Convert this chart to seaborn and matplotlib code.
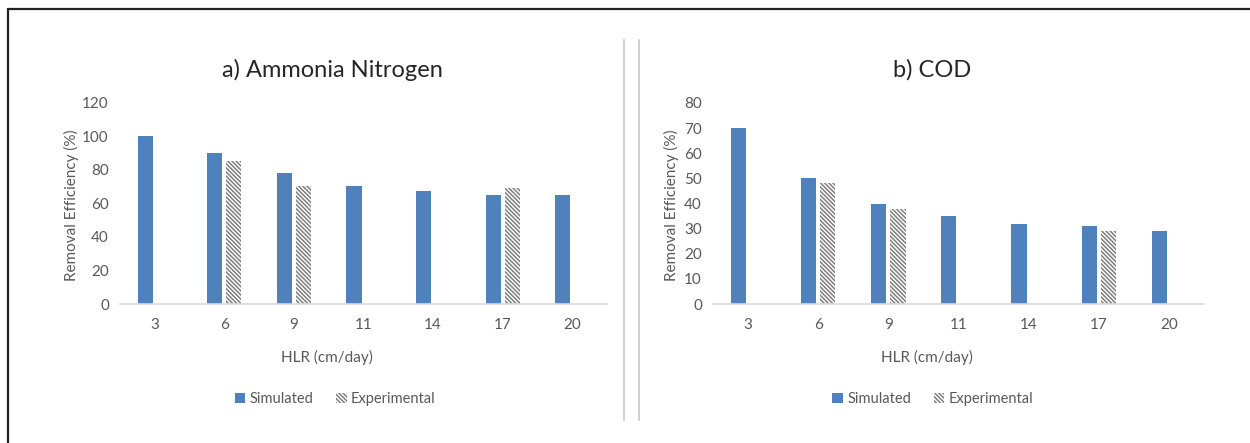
import matplotlib
matplotlib.use("Agg")
import matplotlib.pyplot as plt
from matplotlib.lines import Line2D
from matplotlib.patches import Patch
import numpy as np
import pandas as pd
import seaborn as sns

# ---- data ----
hlr = ["3", "6", "9", "11", "14", "17", "20"]
series = ["Simulated", "Experimental"]
ammonia_sim = [100, 90, 78, 70, 67, 65, 65]
ammonia_exp = [np.nan, 85, 70, np.nan, np.nan, 69, np.nan]
cod_sim = [70, 50, 40, 35, 32, 31, 29]
cod_exp = [np.nan, 48, 38, np.nan, np.nan, 29, np.nan]
titles = ["a) Ammonia Nitrogen", "b) COD"]
x_label = "HLR (cm/day)"
y_label = "Removal Efficiency (%)"
y_ticks = [[0, 20, 40, 60, 80, 100, 120], [0, 10, 20, 30, 40, 50, 60, 70, 80]]

BLUE = "#4F81BD"
GREY = "#7F7F7F"
TXT = "#595959"
HATCH = "\\" * 8

sns.set_theme(style="white")
plt.rcParams["font.family"] = ["Lato", "DejaVu Sans"]
plt.rcParams["hatch.linewidth"] = 1.1

W, H = 1250, 443
fig = plt.figure(figsize=(W / 100, H / 100), dpi=100)
fig.patch.set_facecolor("white")


def px_axes(x0, x1, ytop, ybot):
    return fig.add_axes([x0 / W, (H - ybot) / H, (x1 - x0) / W, (ybot - ytop) / H])


def make_df(sim, exp):
    return pd.DataFrame({
        "HLR": hlr * 2,
        "Series": [series[0]] * len(hlr) + [series[1]] * len(hlr),
        "value": list(sim) + list(exp),
    })


panels = [
    (make_df(ammonia_sim, ammonia_exp), px_axes(120, 607, 102.4, 304), 332, 71, 335),
    (make_df(cod_sim, cod_exp), px_axes(713, 1204, 103, 304), 932, 671, 933),
]

for i, (df, ax, cx, ylx, legx) in enumerate(panels):
    sns.barplot(data=df, x="HLR", y="value", hue="Series", order=hlr,
                hue_order=series, palette=[BLUE, "white"], saturation=1,
                errorbar=None, width=0.547, gap=0.21, ax=ax, linewidth=0,
                legend=False)
    for patch in ax.containers[1]:
        patch.set_facecolor("white")
        patch.set_edgecolor(GREY)
        patch.set_hatch(HATCH)
        patch.set_linewidth(0)
    ymax = y_ticks[i][-1]
    ax.set_ylim(0, ymax)
    ax.set_xlim(-0.5, len(hlr) - 0.5)
    ax.set_yticks(y_ticks[i])
    ax.tick_params(axis="both", length=0, labelsize=11, labelcolor=TXT)
    ax.tick_params(axis="x", pad=10)
    ax.tick_params(axis="y", pad=8)
    for s in ["top", "right", "left"]:
        ax.spines[s].set_visible(False)
    ax.spines["bottom"].set_color("#D9D9D9")
    ax.spines["bottom"].set_linewidth(1.2)
    ax.set_xlabel("")
    ax.set_ylabel("")
    fig.text(cx / W, (H - 70) / H, titles[i], ha="center", va="center",
             fontsize=17, color="#262626")
    fig.text((cx - 5) / W, (H - 357) / H, x_label, ha="center", va="center",
             fontsize=11, color=TXT)
    fig.text(ylx / W, (H - 205) / H, y_label, ha="center", va="center",
             rotation=90, fontsize=11, color=TXT)
    handles = [
        Patch(facecolor=BLUE, edgecolor=BLUE, linewidth=0),
        Patch(facecolor="white", edgecolor=GREY, hatch=HATCH, linewidth=0),
    ]
    fig.legend(handles, series, loc="center", bbox_to_anchor=(legx / W, (H - 399) / H),
               ncol=2, frameon=False, fontsize=10.5, labelcolor=TXT,
               handlelength=0.75, handleheight=0.75, handletextpad=0.3,
               columnspacing=1.5)

# divider lines between panels
for xp in (624, 639):
    fig.add_artist(Line2D([xp / W, xp / W], [(H - 40) / H, (H - 420) / H],
                          color="#D0D0D0", lw=1.5))
# outer frame (top and left)
fig.add_artist(Line2D([8 / W, 1.0], [(H - 9) / H, (H - 9) / H], color="#222222", lw=1.6))
fig.add_artist(Line2D([8 / W, 8 / W], [0.0, (H - 9) / H], color="#222222", lw=1.6))

fig.savefig("out.png", dpi=100, facecolor="white")
